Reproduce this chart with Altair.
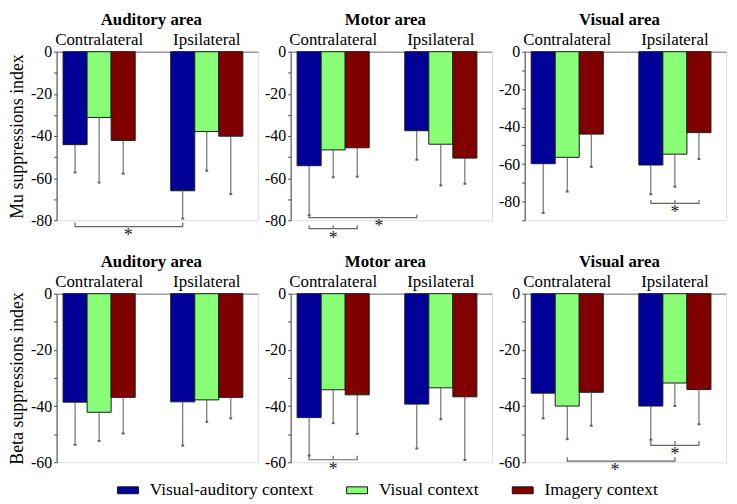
import altair as alt
import pandas as pd

FONT = "Liberation Serif"

groups = ["Contralateral", "Ipsilateral"]
conds = ["Visual-auditory context", "Visual context", "Imagery context"]
cond_colors = ["#000099", "#88FF77", "#800000"]
areas = ["Auditory area", "Motor area", "Visual area"]

# order of values: Contra VA, Contra V, Contra Im, Ipsi VA, Ipsi V, Ipsi Im
mu_mean = {
    "Auditory area": [-44.1, -31.2, -42.1, -66.0, -37.9, -40.1],
    "Motor area": [-54.1, -46.6, -45.6, -37.5, -43.9, -50.5],
    "Visual area": [-59.8, -56.4, -44.0, -60.5, -54.7, -43.2],
}
mu_low = {
    "Auditory area": [-57.3, -62.1, -57.9, -79.2, -56.5, -67.6],
    "Motor area": [-77.6, -59.6, -59.3, -51.3, -63.5, -62.7],
    "Visual area": [-86.1, -74.7, -61.5, -76.1, -72.1, -57.3],
}
beta_mean = {
    "Auditory area": [-38.6, -42.2, -36.9, -38.5, -37.8, -36.9],
    "Motor area": [-44.1, -34.2, -36.0, -39.3, -33.5, -36.7],
    "Visual area": [-35.4, -40.0, -35.1, -40.0, -31.8, -34.1],
}
beta_low = {
    "Auditory area": [-53.8, -52.4, -49.8, -54.1, -45.6, -44.4],
    "Motor area": [-57.6, -46.1, -49.9, -55.1, -44.7, -59.2],
    "Visual area": [-44.4, -51.8, -47.0, -52.0, -40.0, -46.5],
}

mu_domain = {"Auditory area": [-80, 0], "Motor area": [-80, 0], "Visual area": [-90, 0]}
beta_domain = {"Auditory area": [-60, 0], "Motor area": [-60, 0], "Visual area": [-60, 0]}

# significance brackets: (row, area, slots, level, tick height, star slot, star dx)
brackets = [
    ("mu", "Auditory area", [(0, 0), (1, 0)], -83.0, 2.0, (0, 2), 5),
    ("mu", "Motor area", [(0, 0), (1, 0)], -78.7, 1.3, (0, 2), 22),
    ("mu", "Motor area", [(0, 0), (0, 1), (0, 2)], -84.0, 1.6, (0, 1), 0),
    ("mu", "Visual area", [(1, 0), (1, 1), (1, 2)], -81.0, 1.8, (1, 1), 0),
    ("beta", "Motor area", [(0, 0), (0, 1), (0, 2)], -59.1, 1.4, (0, 1), 0),
    ("beta", "Visual area", [(0, 1), (1, 1)], -59.6, 1.4, (0, 2), 24),
    ("beta", "Visual area", [(1, 0), (1, 1), (1, 2)], -54.0, 1.6, (1, 1), 0),
]

W = 203
H = 170

legend = alt.Legend(
    orient="none", legendX=61, legendY=431, direction="horizontal", title=None, padding=0,
    symbolType="M-1,-0.33H1V0.33H-1Z", symbolSize=441, symbolStrokeColor="#111",
    symbolStrokeWidth=1, symbolOpacity=1, labelFont=FONT, labelFontSize=17.5,
    labelColor="black", labelOffset=11, columnPadding=31, labelLimit=0,
)


def panel(row, area, means, lows, ydom, ytitle):
    recs = []
    k = 0
    for g in groups:
        for c in conds:
            recs.append({"group": g, "cond": c, "mean": means[k], "low": lows[k]})
            k += 1
    df = pd.DataFrame(recs)

    xscale = alt.Scale(domain=groups, paddingInner=0.33, paddingOuter=0.1, align=0.3)
    xaxis = alt.Axis(orient="top", title=None, ticks=False, labelAngle=0, labelFont=FONT,
                     labelFontSize=17, labelColor="black", labelPadding=3,
                     domainColor="#777", domainWidth=1)
    X = alt.X("group:N", scale=xscale, axis=xaxis)
    XO = alt.XOffset("cond:N", scale=alt.Scale(domain=conds, paddingInner=0, paddingOuter=0))
    yscale = alt.Scale(domain=ydom, nice=False, zero=False)
    yvals = list(range(ydom[0], 1, 10))
    yaxis = alt.Axis(
        values=yvals, grid=False, tickSize=3, tickColor="#444", domainColor="#444",
        labelFont=FONT, labelFontSize=16, labelColor="black", labelPadding=2,
        labelExpr="datum.value % 20 === 0 ? (datum.value < 0 ? '-' + abs(datum.value) : '' + datum.value) : ''",
        title=ytitle, titleFont=FONT, titleFontSize=18, titleFontWeight="normal",
        titleColor="black", titlePadding=4,
    )

    bars = alt.Chart(df).mark_bar(stroke="#1a1a1a", strokeWidth=1).encode(
        x=X, xOffset=XO,
        y=alt.Y("mean:Q", scale=yscale, axis=yaxis),
        color=alt.Color("cond:N", scale=alt.Scale(domain=conds, range=cond_colors), legend=legend),
    )
    err = alt.Chart(df).mark_rule(color="#555", strokeWidth=1).encode(
        x=X, xOffset=XO, y=alt.Y("mean:Q", scale=yscale, axis=yaxis), y2="low:Q"
    )
    caps = alt.Chart(df).mark_tick(color="#333", size=3, thickness=2).encode(
        x=X, xOffset=XO, y=alt.Y("low:Q", scale=yscale, axis=yaxis)
    )
    layers = [bars, err, caps]

    brs = [b for b in brackets if b[0] == row and b[1] == area]
    pts = []
    for bi, b in enumerate(brs):
        slots, lvl, tk = b[2], b[3], b[4]
        seq = [(slots[0], lvl + tk), (slots[0], lvl)]
        for s in slots[1:-1]:
            seq += [(s, lvl), (s, lvl + tk), (s, lvl)]
        seq += [(slots[-1], lvl), (slots[-1], lvl + tk)]
        for o, (s, yv) in enumerate(seq):
            pts.append({"group": groups[s[0]], "cond": conds[s[1]], "y": yv, "bid": bi, "ord": o})
    if pts:
        bdf = pd.DataFrame(pts)
        layers.append(
            alt.Chart(bdf).mark_line(color="#666", strokeWidth=1.2).encode(
                x=X, xOffset=XO, y=alt.Y("y:Q", scale=yscale, axis=yaxis),
                detail="bid:N", order="ord:Q",
            )
        )
        for b in brs:
            sdf = pd.DataFrame([{"group": groups[b[5][0]], "cond": conds[b[5][1]], "y": b[3]}])
            layers.append(
                alt.Chart(sdf).mark_text(text="*", font=FONT, fontSize=18, baseline="top",
                                         dx=b[6], dy=1, color="#222").encode(
                    x=X, xOffset=XO, y=alt.Y("y:Q", scale=yscale, axis=yaxis)
                )
            )

    return alt.layer(*layers).properties(
        width=W, height=H,
        title=alt.Title(area, font=FONT, fontSize=17, fontWeight="bold", color="black",
                        anchor="middle", offset=2, dx=-6),
    )


panels = []
for i, a in enumerate(areas):
    panels.append(panel("mu", a, mu_mean[a], mu_low[a], mu_domain[a],
                        "Mu suppressions index" if i == 0 else None))
for i, a in enumerate(areas):
    panels.append(panel("beta", a, beta_mean[a], beta_low[a], beta_domain[a],
                        "Beta suppressions index" if i == 0 else None))

chart = alt.concat(*panels, columns=3, spacing={"row": 4, "column": 5}, align="each").resolve_scale(
    color="shared"
).resolve_legend(color="shared").properties(
    padding={"left": 0, "top": 0, "right": 2, "bottom": 0}
).configure_view(stroke=None).configure(
    background="white", font=FONT
).configure_axis(labelFont=FONT, titleFont=FONT).configure_legend(labelFont=FONT).configure_title(font=FONT)

chart.save("out.html", embed_options={"renderer": "svg", "actions": False})
